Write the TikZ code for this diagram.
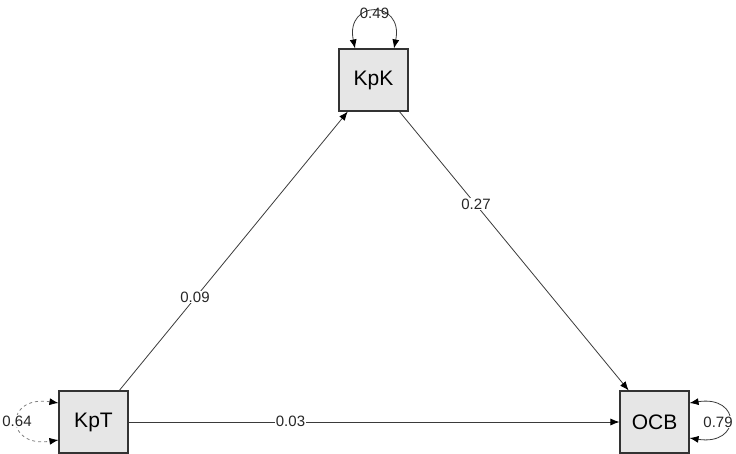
\documentclass[tikz,border=0pt]{standalone}
\usepackage{fontspec}
\setmainfont{Liberation Sans}
\usetikzlibrary{arrows.meta}
\definecolor{boxfill}{HTML}{E6E6E6}
\definecolor{boxline}{HTML}{333333}
\definecolor{edgecol}{HTML}{3A3A3A}
\begin{document}
\begin{tikzpicture}[x=1pt,y=-1pt,
  var/.style={draw=boxline,line width=1.1pt,fill=boxfill,minimum width=69pt,minimum height=62pt,inner sep=0pt,font=\fontsize{21}{24}\selectfont},
  tip/.tip={Latex[length=9pt,width=7pt]},
  path/.style={draw=edgecol,line width=0.8pt,-{Latex[length=9pt,width=7pt,color=black]}},
  loop/.style={draw=edgecol,line width=0.8pt,{Latex[length=9pt,width=7pt,color=black]}-{Latex[length=9pt,width=7pt,color=black]}},
  dloop/.style={loop,draw=gray,dashed},
  lab/.style={fill=white,inner sep=0.5pt,font=\fontsize{15}{17}\selectfont,text=black!85}]
\useasboundingbox (0,0) rectangle (736,453);
\node[var] (KpK) at (373.5,80) {KpK};
\node[var] (KpT) at (93.5,422) {KpT};
\node[var] (OCB) at (654.5,422) {OCB};

\draw[path] (KpT) -- (KpK);
\draw[path] (KpK) -- (OCB);
\draw[path] (KpT) -- (OCB);

\node[lab] at (195,297) {0.09};
\node[lab] at (476,204) {0.27};
\node[lab] at (290.5,421) {0.03};

\draw[loop] ([xshift=-18.5pt]KpK.north) .. controls +(-10,-49) and +(10,-49) .. ([xshift=20.5pt]KpK.north);
\node[lab,fill=none] at (374.5,13) {0.49};

\draw[dloop] ([yshift=19pt]KpT.west) .. controls +(-54,-8) and +(-54,8) .. ([yshift=-18pt]KpT.west);
\node[lab] at (17,421) {0.64};

\draw[loop] ([yshift=19pt]OCB.east) .. controls +(52,-8) and +(52,8) .. ([yshift=-16pt]OCB.east);
\node[lab] at (718,422) {0.79};
\end{tikzpicture}
\end{document}
